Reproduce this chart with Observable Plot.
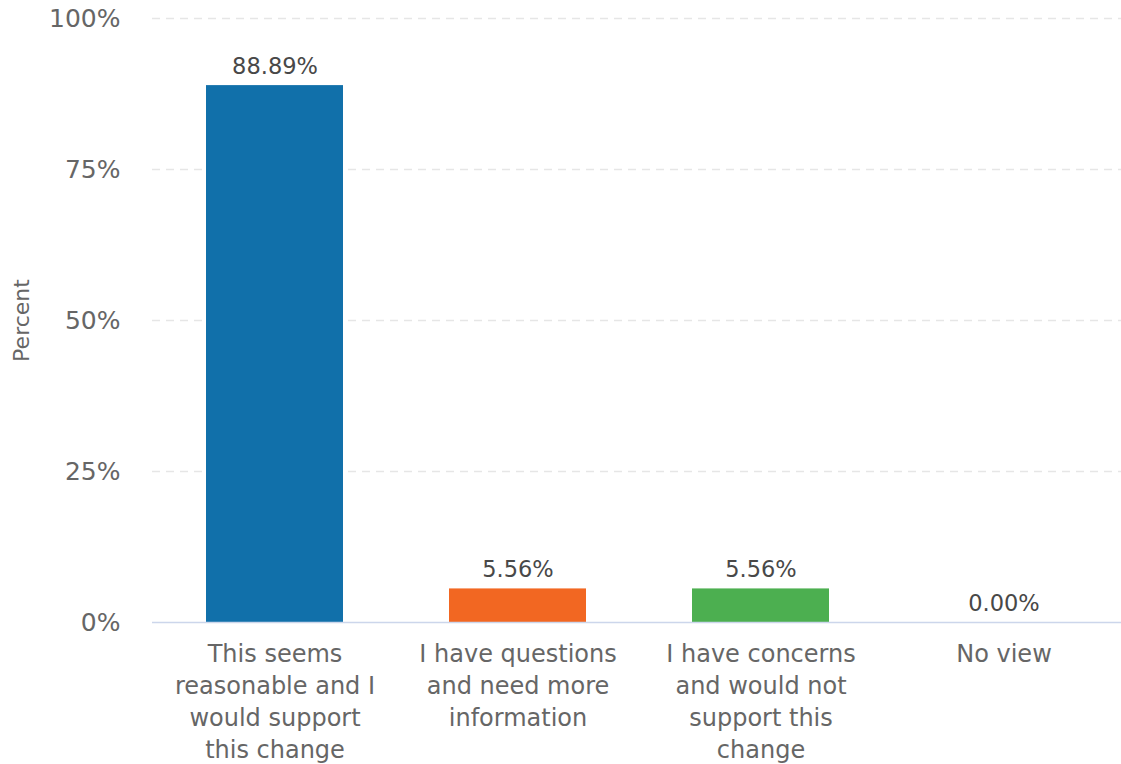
<!DOCTYPE html>
<html>
<head>
<meta charset="utf-8">
<script src="https://cdn.jsdelivr.net/npm/d3@7"></script>
<script src="https://cdn.jsdelivr.net/npm/@observablehq/plot@0.6"></script>
<style>
  html, body { margin: 0; padding: 0; background: #fff; }
  #chart svg { display: block; overflow: visible; }
</style>
</head>
<body>
<div id="chart"></div>
<script>
const categories = [
  "This seems reasonable and I would support this change",
  "I have questions and need more information",
  "I have concerns and would not support this change",
  "No view"
];
const tickLabels = [
  "This seems\nreasonable and I\nwould support\nthis change",
  "I have questions\nand need more\ninformation",
  "I have concerns\nand would not\nsupport this\nchange",
  "No view"
];
const values = [88.89, 5.56, 5.56, 0.00];
const colors = ["#1170aa", "#f26722", "#4caf50", "#7e57c2"];
const yTicks = [0, 25, 50, 75, 100];
const gridTicks = [25, 50, 75, 100];
const yLabel = "Percent";

const data = categories.map((c, i) => ({category: c, value: values[i], color: colors[i]}));

const chart = Plot.plot({
  width: 1121,
  height: 764,
  marginLeft: 152,
  marginRight: 0,
  marginTop: 18,
  marginBottom: 142,
  style: {fontFamily: "DejaVu Sans", background: "#fff"},
  x: {domain: categories, range: [152, 1126], paddingInner: 0.437, paddingOuter: 0.2185},
  y: {domain: [0, 100]},
  marks: [
    Plot.ruleY(gridTicks, {stroke: "#e6e6e6", strokeWidth: 1.5, strokeDasharray: "8,6"}),
    Plot.barY(data, {x: "category", y: "value", fill: "color"}),
    Plot.ruleY([0], {stroke: "#ccd6eb", strokeWidth: 1.5}),
    Plot.text(data, {x: "category", y: "value", text: d => d.value.toFixed(2) + "%", dy: -19, fontSize: 22.5, fill: "#484848"}),
    Plot.axisY({ticks: yTicks, tickFormat: d => d + "%", tickSize: 0, tickPadding: 32, fontSize: 25, color: "#666", label: null}),
    Plot.axisX({tickSize: 0, tickPadding: 17, fontSize: 24, lineHeight: 1.33, color: "#666", label: null,
      tickFormat: d => tickLabels[categories.indexOf(d)]}),
    Plot.text([yLabel], {frameAnchor: "left", textAnchor: "middle", dx: -131, rotate: -90, fontSize: 22, fill: "#666", text: d => d})
  ]
});
document.getElementById("chart").appendChild(chart);
</script>
</body>
</html>
